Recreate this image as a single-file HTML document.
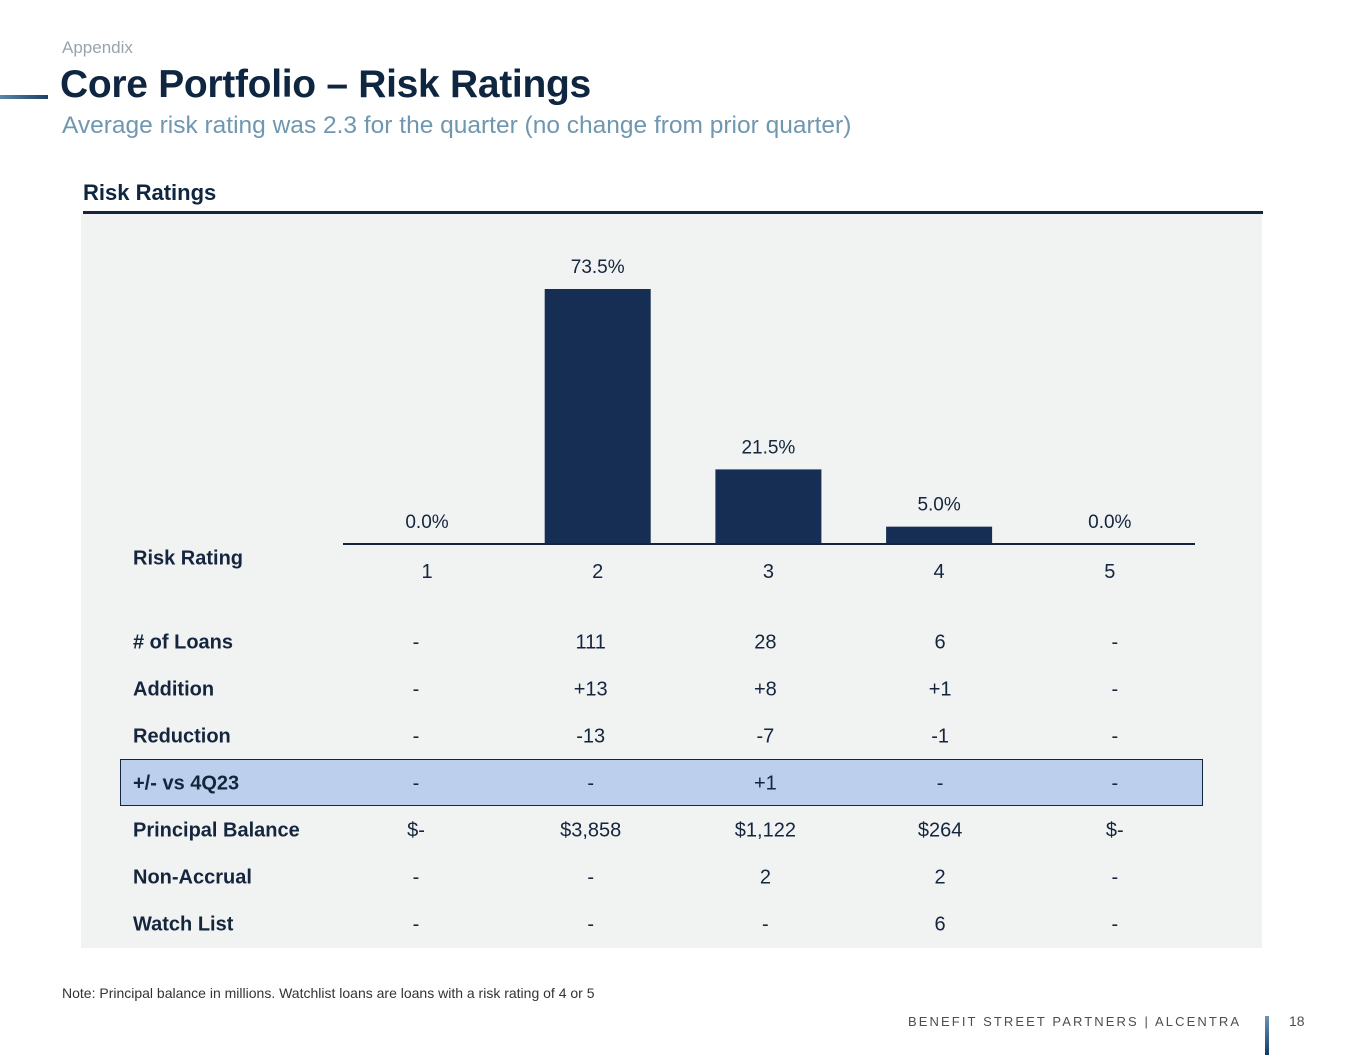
<!DOCTYPE html>
<html><head><meta charset="utf-8">
<style>
body{margin:0;width:1365px;height:1055px;background:#fff;font-family:"Liberation Sans",sans-serif;position:relative;overflow:hidden}
.a{position:absolute;white-space:nowrap}
.lbl{position:absolute;left:133px;font-weight:bold;font-size:20px;color:#14253d;transform:translateY(-50%)}
.cell{position:absolute;font-size:20px;color:#14253d;transform:translate(-50%,-50%)}
</style></head><body>
<div class="a" style="left:0;top:95px;width:48px;height:4px;background:linear-gradient(90deg,#5b86a8,#1c3f66)"></div>
<div class="a" style="left:62px;top:38px;font-size:17px;color:#9aa3ab">Appendix</div>
<div class="a" style="left:60px;top:63px;font-size:39px;font-weight:bold;color:#0f2640;letter-spacing:-0.3px">Core Portfolio – Risk Ratings</div>
<div class="a" style="left:62px;top:112px;font-size:24.5px;color:#6f97b0">Average risk rating was 2.3 for the quarter (no change from prior quarter)</div>
<div class="a" style="left:83px;top:180px;font-size:22px;font-weight:bold;color:#0f2640">Risk Ratings</div>
<div class="a" style="left:83px;top:211px;width:1180px;height:3px;background:#14253d"></div>
<div class="a" style="left:81px;top:214px;width:1181px;height:734px;background:#f1f2f2"></div>
<div class="a" style="left:120px;top:759px;width:1081px;height:45px;background:#bcd0ee;border:1.5px solid #14253d"></div>
<svg class="a" id="chart" style="left:0;top:0" width="1365" height="600"></svg>
<div class="lbl" style="top:559px">Risk Rating</div>
<div id="table"></div>
<div class="a" style="left:62px;top:985px;font-size:14px;color:#333">Note: Principal balance in millions. Watchlist loans are loans with a risk rating of 4 or 5</div>
<div class="a" style="left:908px;top:1014px;font-size:13px;letter-spacing:2.1px;color:#4a4f55">BENEFIT STREET PARTNERS | ALCENTRA</div>
<div class="a" style="left:1265px;top:1016px;width:4px;height:39px;background:linear-gradient(#6d93b5,#123a66)"></div>
<div class="a" style="left:1289px;top:1013px;font-size:14px;color:#4a4f55">18</div>
<script>
const categories=["1","2","3","4","5"];
const shares=[0.0,73.5,21.5,5.0,0.0];
const shareLabels=["0.0%","73.5%","21.5%","5.0%","0.0%"];
const rowLabels=["# of Loans","Addition","Reduction","+/- vs 4Q23","Principal Balance","Non-Accrual","Watch List"];
const rowLoans=["-","111","28","6","-"];
const rowAddition=["-","+13","+8","+1","-"];
const rowReduction=["-","-13","-7","-1","-"];
const rowChange=["-","-","+1","-","-"];
const rowBalance=["$-","$3,858","$1,122","$264","$-"];
const rowNonAccrual=["-","-","2","2","-"];
const rowWatch=["-","-","-","6","-"];

const NS="http://www.w3.org/2000/svg";
const svg=document.getElementById('chart');
const baseY=544, pxPerPct=255/73.5;
const xBand=i=>427+i*170.7;
const y=v=>baseY-v*pxPerPct;
const bw=106;
categories.forEach((c,i)=>{
  const h=baseY-y(shares[i]);
  if(h>0){
    const r=document.createElementNS(NS,'rect');
    
    
    r.setAttribute('x',xBand(i)-bw/2);r.setAttribute('y',y(shares[i]));
    r.setAttribute('width',bw);r.setAttribute('height',h);r.setAttribute('fill','#172e54');
    svg.appendChild(r);
  }
  const t=document.createElementNS(NS,'text');
  
  
  t.setAttribute('x',xBand(i));t.setAttribute('y',y(shares[i])-16);
  t.setAttribute('text-anchor','middle');t.setAttribute('font-size','19');t.setAttribute('fill','#14253d');
  t.setAttribute('font-family','Liberation Sans, sans-serif');
  t.textContent=shareLabels[i];svg.appendChild(t);
  const k=document.createElementNS(NS,'text');
  
  
  k.setAttribute('x',xBand(i));k.setAttribute('y',578);
  k.setAttribute('text-anchor','middle');k.setAttribute('font-size','20');k.setAttribute('fill','#14253d');
  k.setAttribute('font-family','Liberation Sans, sans-serif');
  k.textContent=c;svg.appendChild(k);
});
const ax=document.createElementNS(NS,'line');


ax.setAttribute('x1',343);ax.setAttribute('x2',1195);ax.setAttribute('y1',baseY);ax.setAttribute('y2',baseY);
ax.setAttribute('stroke','#14253d');ax.setAttribute('stroke-width','2');
svg.appendChild(ax);

const rows=[rowLoans,rowAddition,rowReduction,rowChange,rowBalance,rowNonAccrual,rowWatch];
const tbl=document.getElementById('table');
const colX=i=>416+i*174.7;
rows.forEach((row,r)=>{
  const top=643+r*47;
  const l=document.createElement('div');
  l.className='lbl';l.style.top=top+'px';l.textContent=rowLabels[r];
  
  
  tbl.appendChild(l);
  row.forEach((v,i)=>{
    const c=document.createElement('div');
    c.className='cell';c.style.left=colX(i)+'px';c.style.top=top+'px';c.textContent=v;
    
    
    tbl.appendChild(c);
  });
});
</script>
</body></html>
